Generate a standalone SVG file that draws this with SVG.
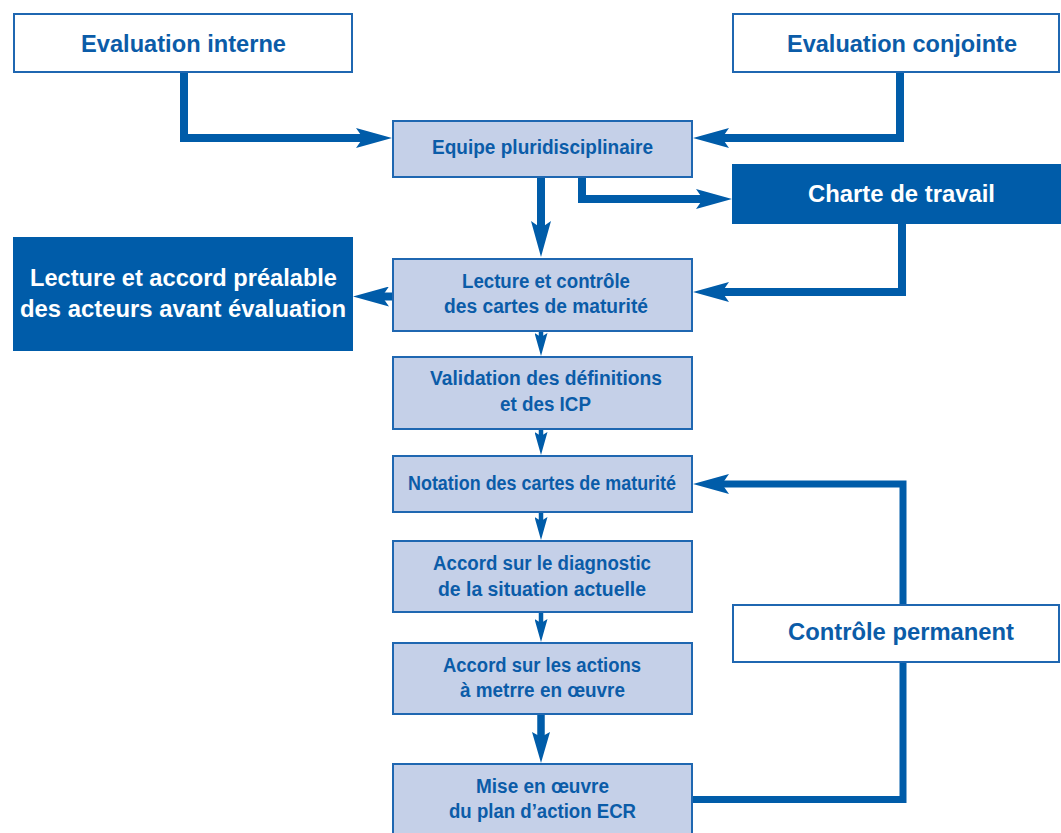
<svg xmlns="http://www.w3.org/2000/svg" width="1061" height="833" viewBox="0 0 1061 833">
  <style>
    .wbox { fill: #ffffff; stroke: #1f67b1; stroke-width: 2; }
    .lbox { fill: #c5d0e8; stroke: #1f67b1; stroke-width: 2; }
    .dbox { fill: #005ca9; stroke: none; }
    text { font-family: "Liberation Sans", Arial, sans-serif; font-weight: bold; text-anchor: middle; }
    .big { font-size: 24.5px; fill: #0b5ca8; }
    .bigw { font-size: 24.5px; fill: #ffffff; }
    .sm { font-size: 19.5px; fill: #0b5ca8; }
    .thick { fill: none; stroke: #005ca9; stroke-width: 8; stroke-linejoin: miter; stroke-linecap: butt; }
    .feed { fill: none; stroke: #005ca9; stroke-width: 7; stroke-linejoin: miter; stroke-linecap: butt; }
    .thin { fill: none; stroke: #005ca9; stroke-width: 4.5; }
    .mid { fill: none; stroke: #005ca9; stroke-width: 7.5; }
  </style>
  <defs>
    <marker id="headBig" markerUnits="userSpaceOnUse" viewBox="0 0 36 20" markerWidth="36" markerHeight="20" refX="20" refY="10" orient="auto">
      <path d="M0,0 L36,10 L0,20 L7,10 Z" fill="#005ca9"/>
    </marker>
    <marker id="headThin" markerUnits="userSpaceOnUse" viewBox="0 0 23 13" markerWidth="23" markerHeight="13" refX="13" refY="6.5" orient="auto">
      <path d="M0,0 L23,6.5 L0,13 L4,6.5 Z" fill="#005ca9"/>
    </marker>
    <marker id="headMid" markerUnits="userSpaceOnUse" viewBox="0 0 31 18" markerWidth="31" markerHeight="18" refX="17" refY="9" orient="auto">
      <path d="M0,0 L31,9 L0,18 L5,9 Z" fill="#005ca9"/>
    </marker>
  </defs>

  <g id="connectors">
    <path class="thick" d="M184,73 V138 H376" marker-end="url(#headBig)"/>
    <path class="thick" d="M900,73 V138 H709" marker-end="url(#headBig)"/>
    <path class="thick" d="M582,178 V199 H716" marker-end="url(#headBig)"/>
    <path class="thick" d="M541,178 V241" marker-end="url(#headBig)"/>
    <path class="thick" d="M902,224 V292 H709" marker-end="url(#headBig)"/>
    <path class="thick" d="M392,296.5 H369" marker-end="url(#headBig)"/>
    <path class="thin" d="M541,331 V346" marker-end="url(#headThin)"/>
    <path class="thin" d="M541,429 V445" marker-end="url(#headThin)"/>
    <path class="thin" d="M541,512 V530" marker-end="url(#headThin)"/>
    <path class="thin" d="M541,612 V632" marker-end="url(#headThin)"/>
    <path class="mid" d="M541,714 V749" marker-end="url(#headMid)"/>
    <path class="feed" d="M903,604 V484 H709" marker-end="url(#headBig)"/>
    <path class="feed" d="M693,799.5 H903 V663"/>
  </g>

  <g id="eval-interne">
    <rect class="wbox" x="14" y="14" width="338" height="58"/>
    <text class="big" x="183.5" y="52" textLength="205" lengthAdjust="spacingAndGlyphs">Evaluation interne</text>
  </g>
  <g id="eval-conjointe">
    <rect class="wbox" x="733" y="14" width="326" height="58"/>
    <text class="big" x="902" y="52" textLength="230" lengthAdjust="spacingAndGlyphs">Evaluation conjointe</text>
  </g>
  <g id="equipe">
    <rect class="lbox" x="393" y="121" width="299" height="56"/>
    <text class="sm" x="542.5" y="154" textLength="221" lengthAdjust="spacingAndGlyphs">Equipe pluridisciplinaire</text>
  </g>
  <g id="charte">
    <rect class="dbox" x="732" y="164" width="329" height="60"/>
    <text class="bigw" x="901.5" y="202" textLength="187" lengthAdjust="spacingAndGlyphs">Charte de travail</text>
  </g>
  <g id="lecture-accord">
    <rect class="dbox" x="13" y="237" width="340" height="114"/>
    <text class="bigw" x="183.5" y="286" textLength="307" lengthAdjust="spacingAndGlyphs">Lecture et accord préalable</text>
    <text class="bigw" x="183" y="317" textLength="326" lengthAdjust="spacingAndGlyphs">des acteurs avant évaluation</text>
  </g>
  <g id="lecture-controle">
    <rect class="lbox" x="393" y="259" width="299" height="72"/>
    <text class="sm" x="546" y="288" textLength="168" lengthAdjust="spacingAndGlyphs">Lecture et contrôle</text>
    <text class="sm" x="546" y="313" textLength="204" lengthAdjust="spacingAndGlyphs">des cartes de maturité</text>
  </g>
  <g id="validation">
    <rect class="lbox" x="393" y="357" width="299" height="72"/>
    <text class="sm" x="546" y="385" textLength="232" lengthAdjust="spacingAndGlyphs">Validation des définitions</text>
    <text class="sm" x="545.5" y="411" textLength="91" lengthAdjust="spacingAndGlyphs">et des ICP</text>
  </g>
  <g id="notation">
    <rect class="lbox" x="393" y="456" width="299" height="56"/>
    <text class="sm" x="542" y="490" textLength="268" lengthAdjust="spacingAndGlyphs">Notation des cartes de maturité</text>
  </g>
  <g id="accord-diagnostic">
    <rect class="lbox" x="393" y="541" width="299" height="71"/>
    <text class="sm" x="542" y="570" textLength="218" lengthAdjust="spacingAndGlyphs">Accord sur le diagnostic</text>
    <text class="sm" x="542" y="596" textLength="208" lengthAdjust="spacingAndGlyphs">de la situation actuelle</text>
  </g>
  <g id="accord-actions">
    <rect class="lbox" x="393" y="643" width="299" height="71"/>
    <text class="sm" x="542" y="672" textLength="198" lengthAdjust="spacingAndGlyphs">Accord sur les actions</text>
    <text class="sm" x="542.5" y="697" textLength="165" lengthAdjust="spacingAndGlyphs">à metrre en œuvre</text>
  </g>
  <g id="controle-permanent">
    <rect class="wbox" x="733" y="605" width="326" height="57"/>
    <text class="big" x="901" y="640" textLength="226" lengthAdjust="spacingAndGlyphs">Contrôle permanent</text>
  </g>
  <g id="mise-en-oeuvre">
    <rect class="lbox" x="393" y="764" width="299" height="75"/>
    <text class="sm" x="542.5" y="793" textLength="133" lengthAdjust="spacingAndGlyphs">Mise en œuvre</text>
    <text class="sm" x="542.5" y="818" textLength="187" lengthAdjust="spacingAndGlyphs">du plan d’action ECR</text>
  </g>
</svg>
